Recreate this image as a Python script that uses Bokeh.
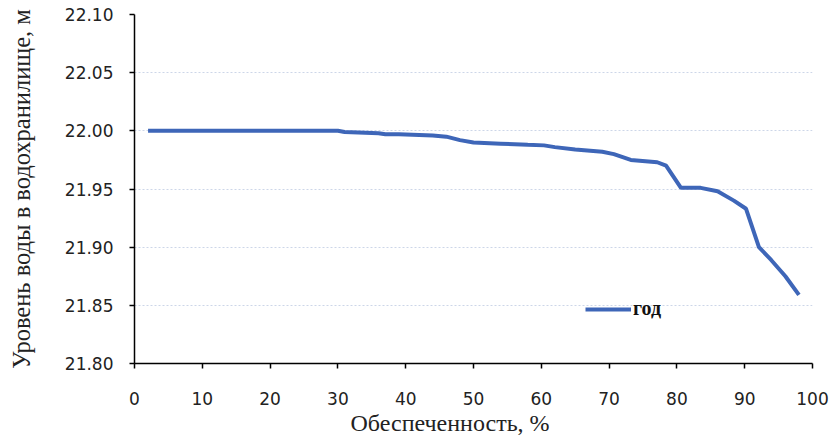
from bokeh.plotting import figure
from bokeh.models import Legend, LegendItem, Title, FixedTicker
from bokeh.embed import file_html
from bokeh.resources import INLINE

# Data
supply_pct = [2, 10, 20, 30, 31, 36, 37, 39, 42, 44, 46, 48, 50, 54, 58, 60.4,
              62, 65, 69, 70.7, 73.2, 77.1, 78.4, 80.6, 83.5, 86.0, 88.4, 90.2,
              92.1, 93.9, 96, 98]
water_level = [22.000, 22.000, 22.000, 22.000, 21.999, 21.998, 21.997, 21.997,
               21.9965, 21.996, 21.995, 21.992, 21.990, 21.989, 21.988, 21.9875,
               21.986, 21.984, 21.982, 21.980, 21.975, 21.973, 21.970, 21.951,
               21.951, 21.948, 21.940, 21.933, 21.900, 21.889, 21.875, 21.859]
x_ticks = [0, 10, 20, 30, 40, 50, 60, 70, 80, 90, 100]
y_ticks = [21.80, 21.85, 21.90, 21.95, 22.00, 22.05, 22.10]
series_name = "год"

p = figure(width=837, height=441, output_backend="svg", toolbar_location=None,
           x_range=(0, 100), y_range=(21.80, 22.10),
           min_border_left=134, min_border_right=25, min_border_top=14,
           min_border_bottom=78)
p.outline_line_color = None
p.background_fill_color = "white"
p.border_fill_color = "white"

line = p.line(supply_pct, water_level, line_color="#3e66b8", line_width=4)

tick_font = "DejaVu Sans"
for ax in (p.xaxis, p.yaxis):
    ax.axis_line_color = "black"
    ax.axis_line_width = 1.5
    ax.major_tick_line_color = "black"
    ax.major_tick_line_width = 1.5
    ax.major_tick_in = 0
    ax.major_tick_out = 5
    ax.minor_tick_line_color = None
    ax.major_label_text_font = tick_font
    ax.major_label_text_font_size = "17px"
    ax.major_label_text_color = "#222222"

p.xaxis.ticker = FixedTicker(ticks=x_ticks)
p.yaxis.ticker = FixedTicker(ticks=y_ticks)
p.yaxis.major_label_overrides = {t: f"{t:.2f}" for t in y_ticks}
p.xaxis.major_label_standoff = 23
p.yaxis.major_label_standoff = 16

p.yaxis.axis_label = "Уровень воды в водохранилище, м"
p.yaxis.axis_label_text_font = "Liberation Serif"
p.yaxis.axis_label_text_font_style = "normal"
p.yaxis.axis_label_text_font_size = "24.5px"
p.yaxis.axis_label_text_color = "#222222"
p.yaxis.axis_label_standoff = 27

p.xgrid.grid_line_color = None
p.ygrid.grid_line_color = "#cdd6e8"
p.ygrid.grid_line_dash = "2 2"
p.ygrid.grid_line_width = 1

xtitle = Title(text="Обеспеченность, %", align="left", offset=216,
               text_font="Liberation Serif", text_font_style="normal",
               text_font_size="24px", text_color="#222222", standoff=0)
p.add_layout(xtitle, "below")

legend = Legend(items=[LegendItem(label=series_name, renderers=[line])],
                location=(451, 43), orientation="horizontal",
                border_line_color=None, background_fill_alpha=0,
                glyph_width=46, glyph_height=20, label_standoff=2,
                padding=0, margin=0, spacing=0,
                label_text_font="Liberation Serif", label_text_font_style="bold",
                label_text_font_size="20px", label_text_color="#111111")
p.add_layout(legend)

open("out.html", "w").write(file_html(p, INLINE))
